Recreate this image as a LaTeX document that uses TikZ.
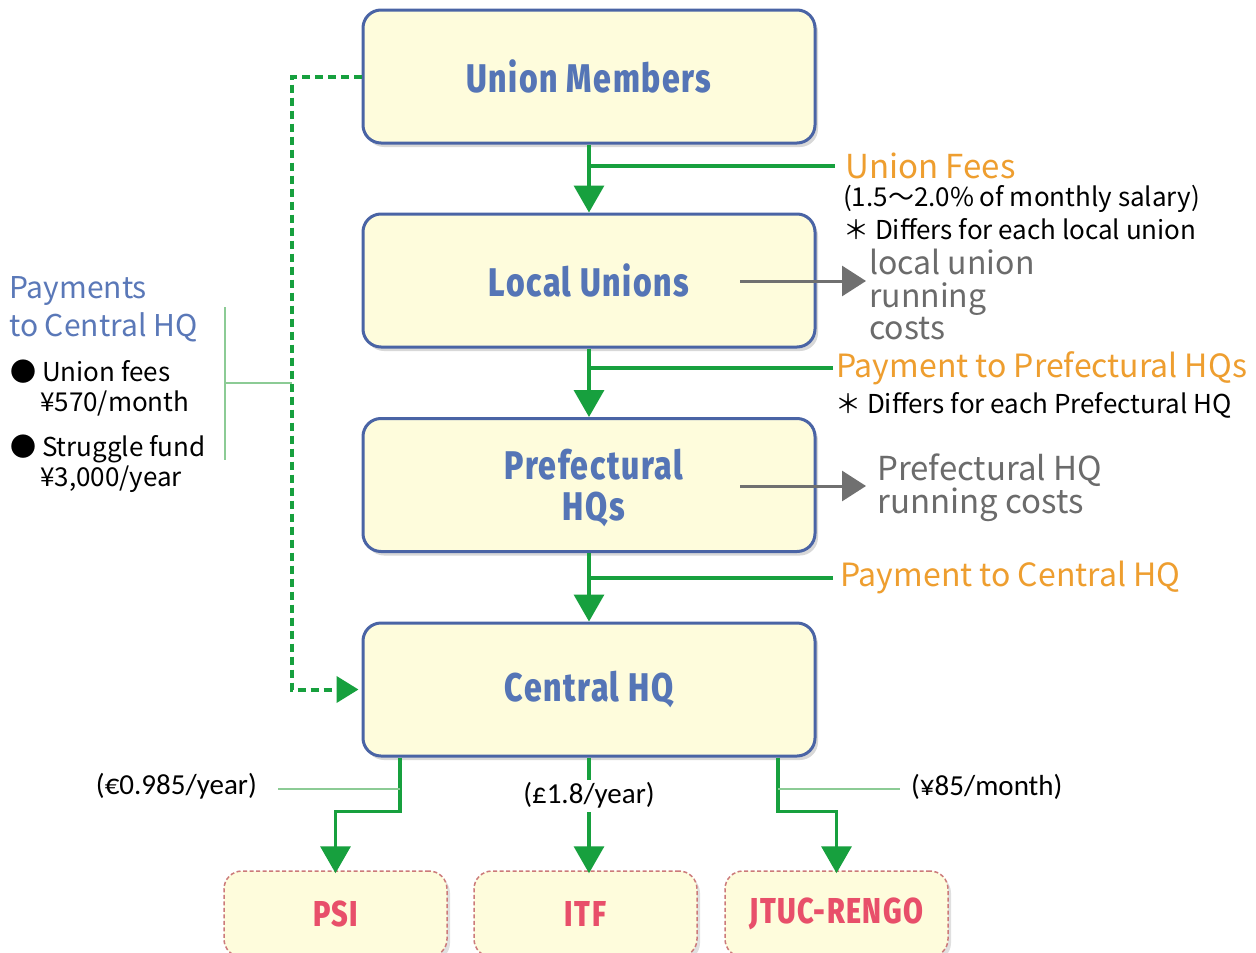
\documentclass[tikz,border=0pt]{standalone}
\usepackage{fontspec}
\usetikzlibrary{arrows.meta,shadows}
\newfontfamily\jpfont{Noto Sans CJK JP}
\newfontfamily\titlefont[FakeStretch=0.8,LetterSpace=4]{Fira Sans ExtraBold}
\newfontfamily\calfont{Carlito}
\definecolor{boxfill}{HTML}{FEFCDC}
\definecolor{boxblue}{HTML}{4A64A5}
\definecolor{titleblue}{HTML}{5575B6}
\definecolor{flowgreen}{HTML}{17A03E}
\definecolor{thingreen}{HTML}{8CCB95}
\definecolor{lblorange}{HTML}{EE9E2F}
\definecolor{costgray}{HTML}{6B6B6B}
\definecolor{arrgray}{HTML}{707070}
\definecolor{titlered}{HTML}{E84F6A}
\definecolor{redborder}{HTML}{CC7A7A}
\definecolor{leftblue}{HTML}{5A78B8}
\tikzset{
  mainbox/.style={draw=boxblue, line width=3pt, fill=boxfill, rounded corners=18pt,
    minimum width=452pt, minimum height=133pt, text=titleblue, align=center,
    font=\titlefont\fontsize{40}{41}\selectfont,
    drop shadow={shadow xshift=3pt, shadow yshift=-4pt, opacity=0.25, fill=black!60}},
  subbox/.style={draw=redborder, line width=1.5pt, dash pattern=on 4pt off 2.5pt, fill=boxfill,
    rounded corners=18pt, minimum width=223pt, minimum height=86pt, text=titlered,
    font=\titlefont\fontsize{36}{38}\selectfont,
    drop shadow={shadow xshift=3pt, shadow yshift=-4pt, opacity=0.2, fill=black!60}},
  flow/.style={draw=flowgreen, line width=3.5pt},
  flowarr/.style={flow, -{Triangle[width=30pt,length=27pt]}},
  dashflow/.style={draw=flowgreen, line width=4pt, dash pattern=on 8pt off 5pt,
    -{Triangle[width=26pt,length=22pt]}},
  thinline/.style={draw=thingreen, line width=1.2pt},
  grayarr/.style={draw=arrgray, line width=3pt, -{Triangle[width=30pt,length=24pt]}},
  orangelbl/.style={text=lblorange, inner sep=0pt, font=\jpfont\fontsize{32}{36}\selectfont},
  note/.style={text=black, inner sep=0pt, font=\jpfont\fontsize{26}{30}\selectfont},
  costlbl/.style={text=costgray, inner sep=0pt, align=left, font=\jpfont\fontsize{32}{32.5}\selectfont},
  leftlbl/.style={text=leftblue, inner sep=0pt, align=left, font=\jpfont\fontsize{30}{38}\selectfont},
  leftnote/.style={text=black, inner sep=0pt, align=left, font=\jpfont\fontsize{26}{30}\selectfont},
  amount/.style={text=black, inner sep=0pt, font=\calfont\fontsize{29}{32}\selectfont},
}
\begin{document}
\begin{tikzpicture}[x=1pt,y=-1pt]
\useasboundingbox[fill=white] (0,0) rectangle (1256,953);

% main boxes
\node[mainbox] (um) at (589,76.5) {Union Members};
\node[mainbox] (lu) at (589,280.5) {Local Unions};
\node[mainbox, text depth=0pt] (ph) at (589,485) {\hspace*{10pt}Prefectural\\\hspace*{10pt}HQs};
\node[mainbox] (ch) at (589,689.5) {Central HQ};

% bottom boxes
\node[subbox] (psi) at (335.5,914) {PSI};
\node[subbox] (itf) at (585.5,914) {ITF};
\node[subbox] (jtuc) at (836.5,914) {JTUC-RENGO};

% right labels
\node[orangelbl, anchor=west, font=\jpfont\fontsize{33}{36}\selectfont] (fees) at (845,166) {Union Fees};
\node[note, anchor=west] (fees2) at (843,199) {(1.5～2.0\% of monthly salary)};
\node[note, anchor=west] (fees3) at (843,229) {＊ Differs for each local union};
\node[costlbl, anchor=north west] (luc) at (869,249) {local union\\running\\costs};
\node[orangelbl, anchor=west] (ppref) at (836,368) {Payment to Prefectural HQs};
\node[note, anchor=west] (ppref2) at (835,405) {＊ Differs for each Prefectural HQ};
\node[costlbl, anchor=north west, font=\jpfont\fontsize{33}{33}\selectfont] (phc) at (877,454) {Prefectural HQ\\running costs};
\node[orangelbl, anchor=west] (pcen) at (840,578) {Payment to Central HQ};

% left labels
\node[leftlbl, anchor=north west] (pay) at (9,276) {Payments\\to Central HQ};
\node[leftnote, anchor=north west] (fee1) at (10,360) {● Union fees\\\hspace*{30pt}¥570/month};
\node[leftnote, anchor=north west] (fee2) at (10,435) {● Struggle fund\\\hspace*{30pt}¥3,000/year};

% green flow arrows
\draw[flowarr] (um.south) -- (lu.north);
\draw[flow] (um.south |- fees.west) -- ([xshift=-10pt]fees.west);
\draw[flowarr] (lu.south) -- (ph.north);
\draw[flow] (lu.south |- ppref.west) -- ([xshift=-3pt]ppref.west);
\draw[flowarr] (ph.south) -- (ch.north);
\draw[flow] (ph.south |- pcen.west) -- ([xshift=-7pt]pcen.west);

% gray cost arrows
\coordinate (g1) at (740,281);
\draw[grayarr] (g1) -- (g1 -| 866,0);
\coordinate (g2) at (740,486);
\draw[grayarr] (g2) -- (g2 -| 866,0);

% dashed line to Central HQ
\draw[dashflow] (um.west) -- ++(-70,0) |- ([xshift=-3pt]ch.west);

% bracket for left text
\coordinate (bt) at (225,307);
\coordinate (bb) at (225,460);
\coordinate (bm) at (225,383);
\coordinate (bd) at (292,383);
\draw[thinline] (bt) -- (bb);
\draw[thinline] (bm) -- (bd);

% bottom connectors
\draw[flowarr] ([xshift=-189pt]ch.south) -- ++(0,54) -| ([yshift=-3pt]psi.north);
\draw[flowarr] (ch.south) -- node[pos=0.33, fill=white, amount, inner sep=3pt] (gbp) {(£1.8/year)} ([yshift=-3pt]itf.north -| ch.south);
\draw[flowarr] ([xshift=189pt]ch.south) -- ++(0,54) -| ([yshift=-3pt]jtuc.north);

\node[amount, anchor=east] (eur) at (257,786) {(€0.985/year)};
\node[amount, anchor=west] (yen) at (911,787) {(¥85/month)};
\coordinate (t1) at (400,789);
\coordinate (t2) at (778,789);
\draw[thinline] ([xshift=21pt]t1 -| eur.east) -- (t1);
\draw[thinline] (t2) -- ([xshift=-11pt]t2 -| yen.west);
\end{tikzpicture}
\end{document}
